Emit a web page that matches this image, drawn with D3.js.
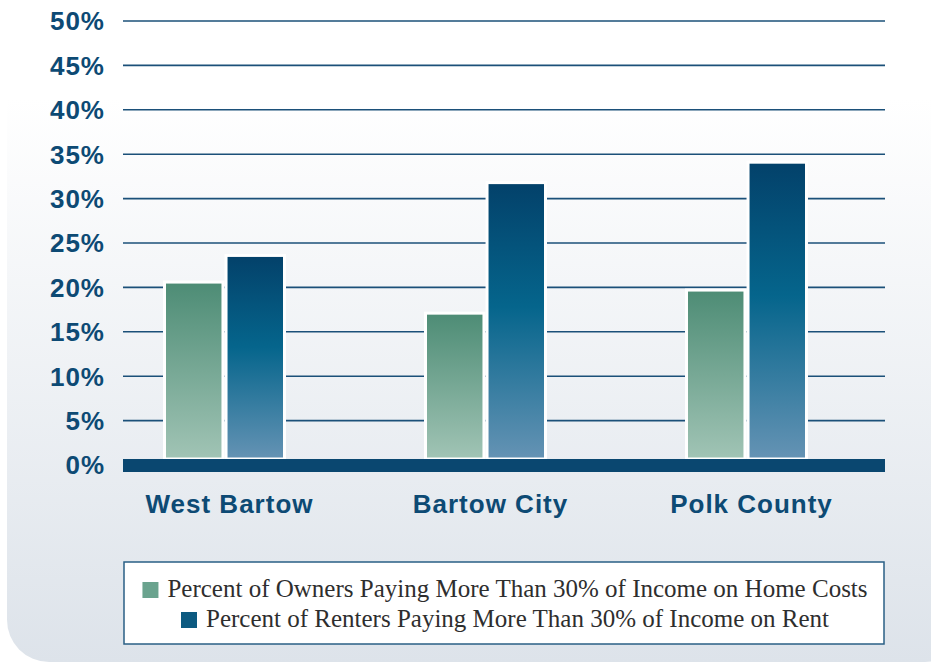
<!DOCTYPE html>
<html>
<head>
<meta charset="utf-8">
<script src="https://cdn.jsdelivr.net/npm/d3@7"></script>
<style>
  body { margin: 0; background: #fff; }
  svg { display: block; }
</style>
</head>
<body>
<svg width="931" height="663"></svg>
<script>
// chart data
var categories = ['West Bartow', 'Bartow City', 'Polk County'];
var seriesNames = ['owners', 'renters'];
var ownerValues = [20.6, 17.1, 19.7];
var renterValues = [23.6, 31.8, 34.1];
var yTicks = [0, 5, 10, 15, 20, 25, 30, 35, 40, 45, 50];
var legendLabels = [
  'Percent of Owners Paying More Than 30% of Income on Home Costs',
  'Percent of Renters Paying More Than 30% of Income on Rent'
];

var svg = d3.select('svg');
var defs = svg.append('defs');

// background panel gradient
var bg = defs.append('linearGradient').attr('id', 'bgGrad')
  .attr('x1', 0).attr('y1', 0).attr('x2', 0).attr('y2', 1);
bg.append('stop').attr('offset', '0%').attr('stop-color', '#ffffff');
bg.append('stop').attr('offset', '22%').attr('stop-color', '#ffffff');
bg.append('stop').attr('offset', '100%').attr('stop-color', '#dde3ea');

var gOwn = defs.append('linearGradient').attr('id', 'ownGrad')
  .attr('x1', 0).attr('y1', 0).attr('x2', 0).attr('y2', 1);
gOwn.append('stop').attr('offset', '0%').attr('stop-color', '#4d8c75');
gOwn.append('stop').attr('offset', '100%').attr('stop-color', '#a1c4b5');

var gRent = defs.append('linearGradient').attr('id', 'rentGrad')
  .attr('x1', 0).attr('y1', 0).attr('x2', 0).attr('y2', 1);
gRent.append('stop').attr('offset', '0%').attr('stop-color', '#03416a');
gRent.append('stop').attr('offset', '45%').attr('stop-color', '#05658c');
gRent.append('stop').attr('offset', '100%').attr('stop-color', '#6593b4');

svg.append('rect')
  .attr('x', 7).attr('y', -60)
  .attr('width', 960).attr('height', 722)
  .attr('rx', 42).attr('ry', 42)
  .style('fill', 'url(#bgGrad)');

// scales
var y = d3.scaleLinear().domain([0, 50]).range([465, 21]);
var x0 = d3.scaleBand().domain(categories).range([94, 877]);
var x1 = d3.scaleBand().domain(seriesNames).range([-60, 60]).paddingInner(0.05);

// gridlines
svg.append('g').selectAll('line')
  .data(yTicks.filter(function(d) { return d > 0; }))
  .enter().append('line')
  .attr('x1', 123).attr('x2', 885)
  .attr('y1', function(d) { return y(d); })
  .attr('y2', function(d) { return y(d); })
  .style('stroke', '#1b5079')
  .style('stroke-width', 1.6);

var boldFont = 'Liberation Sans, Arial, Helvetica, sans-serif';

// y tick labels
svg.append('g').selectAll('text')
  .data(yTicks)
  .enter().append('text')
  .attr('x', 105)
  .attr('y', function(d) { return y(d); })
  .attr('dy', '0.36em')
  .attr('text-anchor', 'end')
  .style('font-family', boldFont)
  .style('font-weight', 'bold')
  .style('font-size', '26px')
  .style('letter-spacing', '1px')
  .style('fill', '#0d4a74')
  .text(function(d) { return d + '%'; });

// bars
var rows = categories.map(function(c, i) {
  return { cat: c, values: [
    { key: 'owners', v: ownerValues[i] },
    { key: 'renters', v: renterValues[i] }
  ] };
});

var groups = svg.append('g').selectAll('g')
  .data(rows)
  .enter().append('g')
  .attr('transform', function(d) { return 'translate(' + (x0(d.cat) + x0.bandwidth() / 2) + ',0)'; });

groups.selectAll('rect')
  .data(function(d) { return d.values; })
  .enter().append('rect')
  .attr('x', function(d) { return x1(d.key); })
  .attr('width', x1.bandwidth())
  .attr('y', function(d) { return y(d.v); })
  .attr('height', function(d) { return y(0) - 6 - y(d.v); })
  .style('fill', function(d) { return d.key === 'owners' ? 'url(#ownGrad)' : 'url(#rentGrad)'; })
  .style('stroke', '#ffffff')
  .style('stroke-width', 3);

// baseline bar
svg.append('rect')
  .attr('x', 123).attr('y', y(0) - 6)
  .attr('width', 762).attr('height', 13)
  .style('fill', '#0a4770');

// category labels
svg.append('g').selectAll('text')
  .data(categories)
  .enter().append('text')
  .attr('x', function(d) { return x0(d) + x0.bandwidth() / 2 + 5; })
  .attr('y', 513)
  .attr('text-anchor', 'middle')
  .style('font-family', boldFont)
  .style('font-weight', 'bold')
  .style('font-size', '26px')
  .style('letter-spacing', '1px')
  .style('fill', '#0d4a74')
  .text(function(d) { return d; });

// legend
svg.append('rect')
  .attr('x', 124).attr('y', 562)
  .attr('width', 760).attr('height', 82)
  .style('fill', '#ffffff')
  .style('stroke', '#2a5f85')
  .style('stroke-width', 1.5);

var legendColors = ['#6aa38e', '#0c5a80'];
var legend = svg.append('g').selectAll('g')
  .data(legendLabels)
  .enter().append('g');

legend.append('text')
  .attr('y', function(d, i) { return 597 + i * 30; })
  .style('font-family', 'Liberation Serif, Times New Roman, serif')
  .style('font-size', '25px')
  .style('fill', '#2e2e2e')
  .text(function(d) { return d; });

legend.each(function(d, i) {
  var g = d3.select(this);
  var t = g.select('text');
  var w = t.node().getComputedTextLength();
  var total = 16 + 9 + w;
  var start = 505 - total / 2;
  g.append('rect')
    .attr('x', start).attr('y', 582 + i * 30)
    .attr('width', 16).attr('height', 16)
    .style('fill', legendColors[i]);
  t.attr('x', start + 25);
});
</script>
</body>
</html>
